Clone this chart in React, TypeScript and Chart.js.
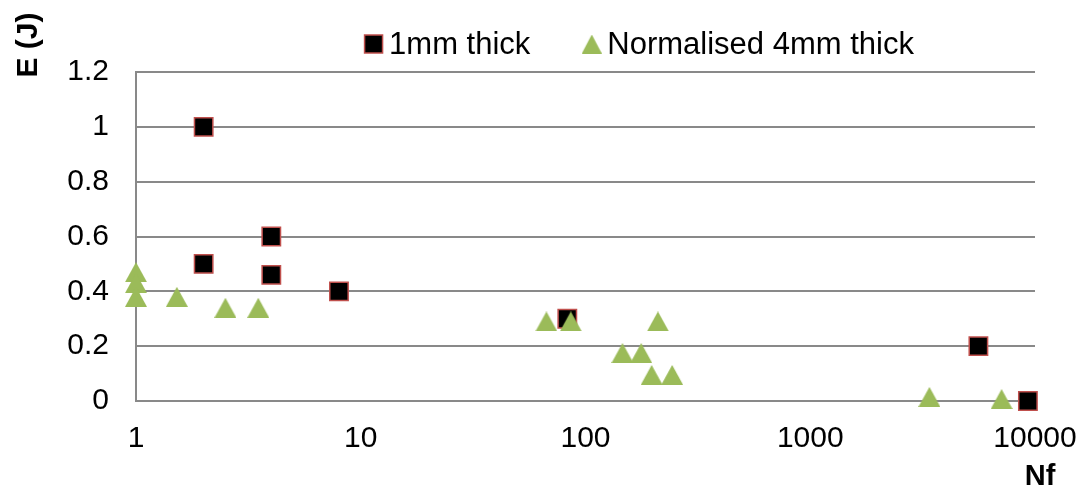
import React, { useEffect, useRef } from "react";
import { Chart, registerables } from "chart.js";

Chart.register(...registerables);

// ---- data ----
const seriesLabels = ["1mm thick", "Normalised 4mm thick"];
const thin1mmNf = [2, 2, 4, 4, 8, 83, 5600, 9300];
const thin1mmE = [1.0, 0.5, 0.6, 0.46, 0.4, 0.3, 0.2, 0];
const norm4mmNf = [1, 1, 1, 1.52, 2.5, 3.5, 67, 86, 146, 177, 197, 210, 243, 3390, 7100];
const norm4mmE = [0.47, 0.43, 0.38, 0.38, 0.34, 0.34, 0.29, 0.29, 0.175, 0.175, 0.095, 0.29, 0.095, 0.015, 0.007];
const xTickValues = [1, 10, 100, 1000, 10000];
const xTickLabels = ["1", "10", "100", "1000", "10000"];
const yTickValues = [0, 0.2, 0.4, 0.6, 0.8, 1.0, 1.2];
const yTickLabels = ["0", "0.2", "0.4", "0.6", "0.8", "1", "1.2"];
const xTitle = "Nf";
const yTitle = "E (J)";

const FONT = "'Liberation Sans', Arial, sans-serif";
const GREEN = "#9bbb59";
const RED = "#c0504d";
const GRID = "#898989";

function makeTriangle(w: number, h: number, color: string) {
  const c = document.createElement("canvas");
  c.width = w;
  c.height = h;
  const ctx = c.getContext("2d")!;
  ctx.fillStyle = color;
  ctx.beginPath();
  ctx.moveTo(w / 2, 0);
  ctx.lineTo(w, h);
  ctx.lineTo(0, h);
  ctx.closePath();
  ctx.fill();
  return c;
}

export default function App() {
  const ref = useRef<HTMLCanvasElement | null>(null);

  useEffect(() => {
    document.body.style.margin = "0";
    document.body.style.overflow = "hidden";
    const tri = makeTriangle(22, 20, GREEN);
    const legendTri = makeTriangle(20, 19, GREEN);

    const toPts = (xs: number[], ys: number[]) => xs.map((x, i) => ({ x, y: ys[i] }));

    const legendPlugin = {
      id: "customLegendTitles",
      afterDraw(chart: any) {
        const ctx = chart.ctx as CanvasRenderingContext2D;
        ctx.save();
        // legend
        ctx.font = `31px ${FONT}`;
        ctx.fillStyle = "#000";
        ctx.textBaseline = "middle";
        ctx.textAlign = "left";
        const markerW = 19;
        const gap = 6;
        const spacing = 52;
        const widths = seriesLabels.map((l) => ctx.measureText(l).width);
        const total = widths.reduce((a, b) => a + b, 0) + seriesLabels.length * (markerW + gap) + spacing * (seriesLabels.length - 1);
        let x = 639 - total / 2;
        const cy = 44;
        seriesLabels.forEach((lab, i) => {
          const mx = x + markerW / 2;
          if (i === 0) {
            ctx.fillStyle = "#000";
            ctx.fillRect(mx - 9, cy - 9, 18, 18);
            ctx.strokeStyle = RED;
            ctx.lineWidth = 1.5;
            ctx.strokeRect(mx - 9, cy - 9, 18, 18);
          } else {
            ctx.drawImage(legendTri, mx - legendTri.width / 2, cy - legendTri.height / 2);
          }
          ctx.fillStyle = "#000";
          ctx.fillText(lab, x + markerW + gap, cy + 1);
          x += markerW + gap + widths[i] + spacing;
        });
        // axis titles
        ctx.font = `bold 30px ${FONT}`;
        ctx.textAlign = "center";
        ctx.textBaseline = "middle";
        ctx.save();
        ctx.translate(29, 45);
        ctx.rotate(-Math.PI / 2);
        ctx.fillText(yTitle, 0, 0);
        ctx.restore();
        ctx.font = `bold 29px ${FONT}`;
        ctx.fillText(xTitle, 1040, 477);
        ctx.restore();
      },
    };

    const chart = new Chart(ref.current!, {
      type: "scatter",
      data: {
        datasets: [
          {
            label: seriesLabels[0],
            data: toPts(thin1mmNf, thin1mmE),
            pointStyle: "rect",
            pointRadius: 13,
            pointHoverRadius: 13,
            backgroundColor: "#000000",
            borderColor: RED,
            borderWidth: 1.5,
            order: 1,
            clip: false,
          },
          {
            label: seriesLabels[1],
            data: toPts(norm4mmNf, norm4mmE),
            pointStyle: tri as any,
            pointRadius: 11,
            pointHoverRadius: 11,
            backgroundColor: GREEN,
            borderColor: GREEN,
            borderWidth: 0,
            order: 0,
            clip: false,
          },
        ],
      },
      options: {
        animation: false,
        responsive: true,
        maintainAspectRatio: false,
        layout: { padding: { top: 72, right: 48, bottom: 0, left: 0 } },
        plugins: { legend: { display: false }, tooltip: { enabled: false } },
        scales: {
          x: {
            type: "logarithmic",
            min: 1,
            max: 10000,
            afterBuildTicks: (scale: any) => {
              scale.ticks = xTickValues.map((v) => ({ value: v }));
            },
            afterFit: (scale: any) => {
              scale.height = 89;
              scale.paddingRight = 0;
              scale.paddingLeft = 0;
            },
            grid: { display: false, drawTicks: false },
            border: { display: true, color: GRID, width: 2 },
            ticks: {
              autoSkip: false,
              maxRotation: 0,
              padding: 20,
              color: "#000",
              font: { family: FONT, size: 30 },
              callback: (v: any) => {
                const i = xTickValues.indexOf(Number(v));
                return i >= 0 ? xTickLabels[i] : "";
              },
            },
          },
          y: {
            min: 0,
            max: 1.2,
            afterBuildTicks: (scale: any) => {
              scale.ticks = yTickValues.map((v) => ({ value: v }));
            },
            afterFit: (scale: any) => {
              scale.width = 136;
              scale.paddingTop = 0;
              scale.paddingBottom = 0;
            },
            grid: { display: true, color: GRID, lineWidth: 2, drawTicks: false },
            border: { display: true, color: GRID, width: 2 },
            ticks: {
              padding: 27,
              color: "#000",
              font: { family: FONT, size: 30 },
              callback: (v: any) => {
                const i = yTickValues.findIndex((t) => Math.abs(t - Number(v)) < 1e-9);
                return i >= 0 ? yTickLabels[i] : "";
              },
            },
          },
        },
      },
      plugins: [legendPlugin],
    });
    return () => chart.destroy();
  }, []);

  return (
    <div style={{ width: 1083, height: 490, position: "relative", overflow: "hidden" }}>
      <canvas ref={ref} style={{ display: "block" }} />
    </div>
  );
}
